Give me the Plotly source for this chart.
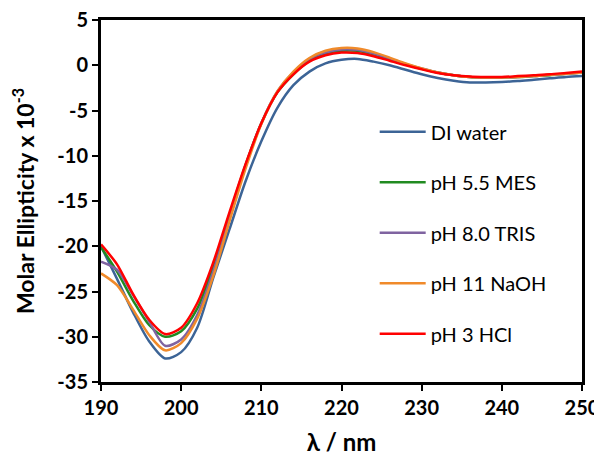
import plotly.graph_objects as go

# wavelengths (nm)
wavelength = [190, 192, 194, 196, 198, 200, 202, 204, 206, 208, 210, 212, 214, 216, 218, 220,
              222, 224, 226, 228, 230, 232, 234, 236, 238, 240, 242, 244, 246, 248, 250]

# molar ellipticity x 10^-3
di_water = [-20.0, -23.6, -27.3, -30.5, -32.4, -31.7, -29.0, -23.5, -18.2, -12.9, -8.4, -4.7, -2.2, -0.7,
            0.2, 0.6, 0.7, 0.4, 0.0, -0.5, -1.0, -1.4, -1.7, -1.9, -1.9, -1.85, -1.75, -1.6, -1.45, -1.3, -1.2]
ph55_mes = [-20.1, -22.8, -26.0, -28.7, -30.0, -29.4, -26.9, -22.3, -16.6, -11.1, -6.4, -3.0, -1.0, 0.5,
            1.3, 1.6, 1.6, 1.2, 0.65, 0.1, -0.4, -0.8, -1.1, -1.3, -1.35, -1.35, -1.3, -1.2, -1.1, -0.95, -0.8]
ph80_tris = [-21.7, -22.6, -25.4, -28.3, -31.0, -30.3, -27.6, -22.8, -16.9, -11.2, -6.4, -2.9, -0.8, 0.7,
             1.4, 1.75, 1.7, 1.3, 0.75, 0.15, -0.35, -0.8, -1.1, -1.3, -1.35, -1.35, -1.3, -1.2, -1.05, -0.95, -0.8]
ph11_naoh = [-23.0, -24.3, -27.0, -29.8, -31.5, -30.7, -28.0, -23.3, -17.3, -11.5, -6.5, -2.9, -0.7, 0.8,
             1.6, 1.9, 1.85, 1.45, 0.85, 0.2, -0.35, -0.8, -1.1, -1.3, -1.35, -1.35, -1.3, -1.2, -1.05, -0.95, -0.8]
ph3_hcl = [-19.8, -22.0, -25.3, -28.1, -29.7, -29.0, -26.3, -21.8, -16.3, -11.0, -6.4, -3.0, -1.0, 0.4,
           1.1, 1.4, 1.35, 1.0, 0.5, 0.0, -0.45, -0.85, -1.1, -1.25, -1.3, -1.3, -1.2, -1.1, -1.0, -0.85, -0.7]

# tick labels (plain hyphen like the original)
x_ticks = [190, 200, 210, 220, 230, 240, 250]
y_ticks = [-35, -30, -25, -20, -15, -10, -5, 0, 5]
y_tick_labels = ["-35", "-30", "-25", "-20", "-15", "-10", "-5", "0", "5"]

series = [
    ("DI water", di_water, "#3C6496"),
    ("pH 5.5 MES", ph55_mes, "#218B21"),
    ("pH 8.0 TRIS", ph80_tris, "#7F63A0"),
    ("pH 11 NaOH", ph11_naoh, "#F08A2A"),
    ("pH 3 HCl", ph3_hcl, "#FF0000"),
]

fig = go.Figure()

# red drawn last so it sits on top
for name, vals, col in series:
    fig.add_trace(go.Scatter(x=wavelength, y=vals, mode="lines", name=name, legendgroup=name,
                             line=dict(color=col, width=2.5, shape="spline", smoothing=0.8)))

# page body adds 8px on each side -> figure kept 16px smaller so no scrollbars
fig.update_layout(
    width=586, height=448,
    margin=dict(l=93, r=12, t=12, b=74),
    plot_bgcolor="white", paper_bgcolor="white",
    font=dict(family="Lato", color="black"),
    showlegend=True,
    legend=dict(x=0.569, y=0.745, xanchor="left", yanchor="top", bgcolor="rgba(0,0,0,0)",
                font=dict(size=20, family="Lato"), tracegroupgap=21.5, traceorder="grouped",
                itemwidth=46),
    xaxis=dict(range=[190, 250], tickmode="array", tickvals=x_ticks, automargin=False,
               ticklabeloverflow="allow",
               showgrid=False, zeroline=False, showline=True, linecolor="black", linewidth=3,
               mirror=True, ticks="outside", ticklen=6, tickwidth=2, tickcolor="black",
               tickfont=dict(size=20, family="Lato", weight="bold"),
               title=dict(text="λ / nm", font=dict(size=24, family="Lato", weight="bold"), standoff=17)),
    yaxis=dict(range=[-35, 5], tickmode="array", tickvals=y_ticks, ticktext=y_tick_labels,
               automargin=False, ticklabeloverflow="allow",
               showgrid=False, zeroline=False, showline=True, linecolor="black", linewidth=3,
               mirror=True, ticks="outside", ticklen=6, tickwidth=2, tickcolor="black",
               tickfont=dict(size=20, family="Lato", weight="bold"),
               title=dict(text="Molar Ellipticity x 10<sup>-3</sup>",
                          font=dict(size=23, family="Lato", weight="bold"), standoff=18)),
)

fig.write_html("out.html")
